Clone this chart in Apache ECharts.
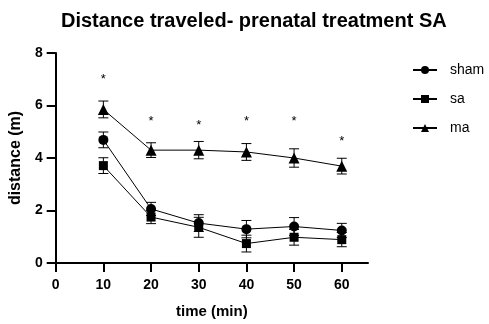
<!DOCTYPE html>
<html><head><meta charset="utf-8">
<script src="https://cdn.jsdelivr.net/npm/echarts@6/dist/echarts.min.js"></script>
<style>html,body{margin:0;padding:0;background:#fff}#c{width:489px;height:324px}</style>
</head><body><div id="c"></div>
<script>
const times = [10, 20, 30, 40, 50, 60];
const shamMean = [4.69, 2.06, 1.52, 1.29, 1.39, 1.24];
const shamErr  = [0.30, 0.25, 0.32, 0.33, 0.34, 0.27];
const saMean   = [3.71, 1.75, 1.36, 0.74, 0.98, 0.89];
const saErr    = [0.30, 0.25, 0.38, 0.32, 0.30, 0.27];
const maMean   = [5.85, 4.30, 4.30, 4.23, 4.00, 3.69];
const maErr    = [0.32, 0.28, 0.33, 0.32, 0.35, 0.30];
const starY    = [7.0, 5.4, 5.25, 5.4, 5.4, 4.65];
const yTicks   = [0, 2, 4, 6, 8];
const xTicks   = [0, 10, 20, 30, 40, 50, 60];

const chart = echarts.init(document.getElementById('c'));
const font = 'Liberation Sans, Arial, sans-serif';

function pairs(m){ return times.map((t,i)=>[t,m[i]]); }
function errData(m,e){ return times.map((t,i)=>[t,m[i]-e[i],m[i]+e[i]]); }
function errSeries(m,e){
  return {
    type:'custom', data: errData(m,e), z: 1, silent:true,
    renderItem(params, api){
      const x = api.value(0);
      const lo = api.coord([x, api.value(1)]);
      const hi = api.coord([x, api.value(2)]);
      const w = 5;
      return {type:'group', children:[
        {type:'line', shape:{x1:lo[0],y1:lo[1],x2:hi[0],y2:hi[1]}, style:{stroke:'#000',lineWidth:1}},
        {type:'line', shape:{x1:lo[0]-w,y1:lo[1],x2:lo[0]+w,y2:lo[1]}, style:{stroke:'#000',lineWidth:1}},
        {type:'line', shape:{x1:hi[0]-w,y1:hi[1],x2:hi[0]+w,y2:hi[1]}, style:{stroke:'#000',lineWidth:1}}
      ]};
    }
  };
}
function lineSeries(name, m, sym, size){
  return {name, type:'line', data: pairs(m), symbol: sym, symbolSize: size, z: 3,
    lineStyle:{color:'#000', width:1}, itemStyle:{color:'#000'}, showAllSymbol:true};
}

chart.setOption({
  animation:false,
  backgroundColor:'#fff',
  title:{text:'Distance traveled- prenatal treatment SA', left:56, top:6,
    textStyle:{fontFamily:font, fontSize:20, fontWeight:'bold', color:'#000'}},
  grid:{left:55, right:121, top:53, bottom:58},
  legend:{orient:'vertical', left:412, top:62, padding:0, itemGap:13, itemWidth:24, itemHeight:10,
    textStyle:{fontFamily:font, fontSize:14, lineHeight:16, color:'#000', padding:[0,0,0,8]},
    data:['sham','sa','ma']},
  xAxis:{type:'value', min:0, max:65.5, interval:10,
    name:'time (min)', nameLocation:'middle', nameGap:41,
    nameTextStyle:{fontFamily:font, fontSize:15, fontWeight:'bold', color:'#000'},
    axisLine:{lineStyle:{color:'#000', width:2}},
    axisTick:{show:true, length:9, lineStyle:{color:'#000', width:2}},
    axisLabel:{fontFamily:font, fontSize:14, fontWeight:'bold', color:'#000', margin:15,
      showMaxLabel:false,
      formatter: v => xTicks.includes(v) ? String(v) : ''},
    splitLine:{show:false}},
  yAxis:{type:'value', min:0, max:8, interval:2,
    name:'distance (m)', nameLocation:'middle', nameGap:22,
    nameTextStyle:{fontFamily:font, fontSize:16, fontWeight:'bold', color:'#000'},
    axisLine:{show:true, lineStyle:{color:'#000', width:2}},
    axisTick:{show:true, length:9, lineStyle:{color:'#000', width:2}},
    axisLabel:{fontFamily:font, fontSize:14, fontWeight:'bold', color:'#000', margin:13,
      formatter: v => yTicks.includes(v) ? String(v) : ''},
    splitLine:{show:false}},
  series:[
    errSeries(shamMean, shamErr),
    errSeries(saMean, saErr),
    errSeries(maMean, maErr),
    lineSeries('sham', shamMean, 'circle', 10),
    lineSeries('sa', saMean, 'rect', 9),
    lineSeries('ma', maMean, 'triangle', 11),
    {type:'custom', data: pairs(starY), silent:true,
      renderItem(params, api){
        const p = api.coord([api.value(0), api.value(1)]);
        return {type:'text', x:p[0], y:p[1], style:{text:'*', fontFamily:font, fontSize:13,
          fill:'#000', align:'center', verticalAlign:'middle'}};
      }}
  ]
});
</script></body></html>
